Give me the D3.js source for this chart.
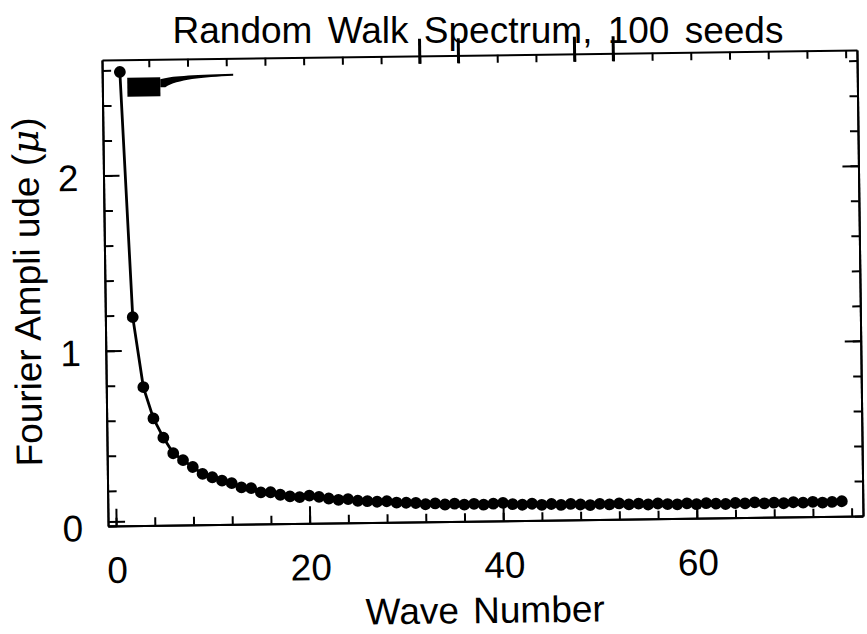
<!DOCTYPE html>
<html><head><meta charset="utf-8">
<script src="https://cdn.jsdelivr.net/npm/d3@7/dist/d3.min.js"></script>
<style>
html,body{margin:0;padding:0;background:#fff;}
svg{display:block;}
text{font-family:"Liberation Sans", Arial, Helvetica, sans-serif; fill:#000;}
</style></head><body>
<svg id="chart" width="867" height="634"></svg>
<script>
// ---- data ----
const waveNumbers = [1,2,3,4,5,6,7,8,9,10,11,12,13,14,15,16,17,18,19,20,
  21,22,23,24,25,26,27,28,29,30,31,32,33,34,35,36,37,38,39,40,
  41,42,43,44,45,46,47,48,49,50,51,52,53,54,55,56,57,58,59,60,
  61,62,63,64,65,66,67,68,69,70,71,72,73,74,75];
const amplitude = [2.59,1.19,0.79,0.61,0.50,0.41,0.37,0.33,0.29,0.27,
  0.25,0.235,0.21,0.205,0.18,0.18,0.165,0.155,0.15,0.158,
  0.15,0.14,0.132,0.135,0.125,0.122,0.118,0.12,0.112,0.11,
  0.108,0.100,0.104,0.097,0.101,0.095,0.099,0.093,0.098,0.102,
  0.094,0.090,0.095,0.088,0.092,0.086,0.091,0.087,0.083,0.089,
  0.085,0.090,0.084,0.088,0.082,0.087,0.083,0.081,0.086,0.080,
  0.085,0.082,0.079,0.084,0.081,0.086,0.080,0.083,0.079,0.084,
  0.081,0.085,0.080,0.083,0.086];
const xTickLabels = [0,20,40,60];
const xMinorTicks = [0,4,8,12,16,20,24,28,32,36,40,44,48,52,56,60,64,68,72,76];
const topLongTicks = [32,36,48,52];
const yTickLabels = [0,1,2];
const yMinorTicks = [0,0.2,0.4,0.6,0.8,1,1.2,1.4,1.6,1.8,2,2.2,2.4,2.6];
const titleText = "Random Walk Spectrum, 100 seeds";
const xTitle = "Wave Number";
const yTitle = "Fourier Ampli ude (";
const yTitleSym = "\u03BC";

// ---- layout ----
const svg = d3.select("#chart");
const frame = {left:105, right:860, top:55, bottom:521};
const x = d3.scaleLinear().domain([-0.83, 77.17]).range([frame.left, frame.right]);
const y = d3.scaleLinear().domain([0, 2.66]).range([frame.bottom, frame.top]);

svg.append("text").attr("x", 478).attr("y", 43).attr("text-anchor","middle")
  .attr("font-size", 37).attr("word-spacing", 5).text(titleText);

const g = svg.append("g").attr("transform", "rotate(-0.75, 483, 288)");

function styleAxis(sel){
  sel.selectAll("path.domain").attr("stroke","#000").attr("stroke-width",2);
  sel.selectAll(".tick line").attr("stroke","#000").attr("stroke-width",2);
  sel.selectAll(".tick text").remove();
}
// bottom
g.append("g").attr("transform",`translate(0,${frame.bottom})`)
  .call(d3.axisBottom(x).tickValues(xMinorTicks).tickSizeInner(-8).tickSizeOuter(0).tickFormat(""))
  .call(styleAxis);
g.append("g").attr("transform",`translate(0,${frame.bottom})`)
  .call(d3.axisBottom(x).tickValues(xTickLabels).tickSizeInner(-17).tickSizeOuter(0).tickFormat(""))
  .call(styleAxis);
g.append("line").attr("x1", frame.left).attr("x2", x(0)+9)
  .attr("y1", frame.bottom-4).attr("y2", frame.bottom-4)
  .attr("stroke","#000").attr("stroke-width",2);
// top
g.append("g").attr("transform",`translate(0,${frame.top})`)
  .call(d3.axisTop(x).tickValues(xMinorTicks.filter(d=>d>0)).tickSizeInner(-8).tickSizeOuter(0).tickFormat(""))
  .call(styleAxis);
g.append("g").selectAll("line").data(topLongTicks).join("line")
  .attr("x1", d=>x(d)).attr("x2", d=>x(d))
  .attr("y1", frame.top-17).attr("y2", frame.top+8)
  .attr("stroke","#000").attr("stroke-width",3);
// left
g.append("g").attr("transform",`translate(${frame.left},0)`)
  .call(d3.axisLeft(y).tickValues(yMinorTicks).tickSizeInner(-9).tickSizeOuter(0).tickFormat(""))
  .call(styleAxis);
g.append("g").attr("transform",`translate(${frame.left},0)`)
  .call(d3.axisLeft(y).tickValues(yTickLabels.filter(d=>d>0)).tickSizeInner(-16).tickSizeOuter(0).tickFormat(""))
  .call(styleAxis);
// right
g.append("g").attr("transform",`translate(${frame.right},0)`)
  .call(d3.axisRight(y).tickValues(yMinorTicks).tickSizeInner(-8).tickSizeOuter(0).tickFormat(""))
  .call(styleAxis);
g.append("g").attr("transform",`translate(${frame.right},0)`)
  .call(d3.axisRight(y).tickValues(yTickLabels.filter(d=>d>0)).tickSizeInner(-16).tickSizeOuter(0).tickFormat(""))
  .call(styleAxis);

// tick labels
g.append("g").selectAll("text").data(xTickLabels).join("text")
  .attr("x", d=>x(d)+1).attr("y", frame.bottom+57).attr("text-anchor","middle")
  .attr("font-size",37).text(d=>d);
g.append("g").selectAll("text").data(yTickLabels).join("text")
  .attr("x", 80).attr("y", d=>y(d)+15).attr("text-anchor","end")
  .attr("font-size",37).text(d=>d);

// axis titles
g.append("text").attr("x", 481).attr("y", 623).attr("text-anchor","middle")
  .attr("font-size",37).attr("word-spacing",4).text(xTitle);
const yt = g.append("text").attr("transform","translate(40,286) rotate(-90)")
  .attr("text-anchor","middle").attr("font-size",37);
yt.append("tspan").text(yTitle);
yt.append("tspan").attr("font-style","italic").attr("font-family","'DejaVu Serif', serif").text(yTitleSym);
yt.append("tspan").text(")");

// legend symbol (as in the reference)
const lg = g.append("g").attr("transform",`translate(${frame.left+25},${frame.top+18})`);
lg.append("rect").attr("width",33).attr("height",19).attr("fill","#000");
lg.append("path").attr("d","M33,2 C45,-1 60,-1.5 106,-2.5 L106,-0.5 C75,0.5 50,2.5 38,10 L33,10 Z").attr("fill","#000");

// data
const pts = waveNumbers.map((k,i)=>({k, v: amplitude[i]}));
g.append("path").datum(pts)
  .attr("d", d3.line().x(d=>x(d.k)).y(d=>y(d.v)))
  .attr("fill","none").attr("stroke","#000").attr("stroke-width",2.8);
g.append("g").selectAll("circle").data(pts).join("circle")
  .attr("cx", d=>x(d.k)).attr("cy", d=>y(d.v)).attr("r",5.9).attr("fill","#000");
</script>
</body></html>
